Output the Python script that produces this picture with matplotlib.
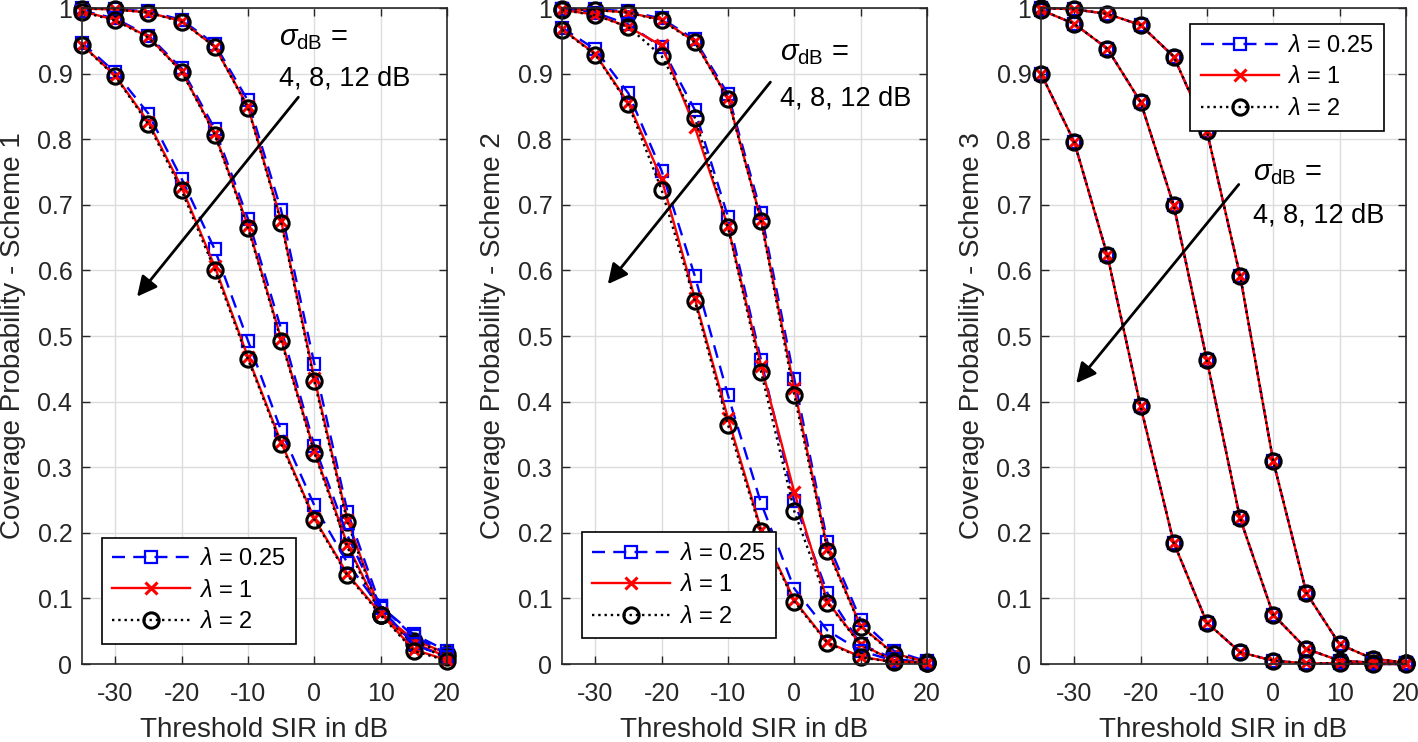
import matplotlib.pyplot as plt
import numpy as np

plt.rcParams['font.family'] = ['Liberation Sans', 'DejaVu Sans']
plt.rcParams['mathtext.fontset'] = 'custom'
plt.rcParams['mathtext.rm'] = 'Liberation Sans'
plt.rcParams['mathtext.it'] = 'Liberation Sans:italic'
plt.rcParams['axes.unicode_minus'] = False

# Порог SIR, дБ
sir_db = [-35, -30, -25, -20, -15, -10, -5, 0, 5, 10, 15, 20]

lambda_labels = [r'$\lambda$ = 0.25', r'$\lambda$ = 1', r'$\lambda$ = 2']

# Схема 1: sigma = 4, 8, 12 дБ; lambda = 0.25, 1, 2
s1_sig4_l025 = [1.0, 0.998, 0.995, 0.982, 0.945, 0.859, 0.692, 0.458, 0.232, 0.088, 0.045, 0.02]
s1_sig4_l1 = [0.999, 0.998, 0.993, 0.980, 0.941, 0.850, 0.676, 0.436, 0.220, 0.078, 0.037, 0.016]
s1_sig4_l2 = [0.999, 0.998, 0.993, 0.979, 0.941, 0.848, 0.673, 0.431, 0.216, 0.074, 0.035, 0.015]
s1_sig8_l025 = [0.996, 0.984, 0.958, 0.908, 0.816, 0.679, 0.511, 0.333, 0.196, 0.088, 0.042, 0.016]
s1_sig8_l1 = [0.995, 0.982, 0.956, 0.904, 0.809, 0.668, 0.496, 0.325, 0.182, 0.078, 0.032, 0.011]
s1_sig8_l2 = [0.994, 0.981, 0.955, 0.903, 0.807, 0.665, 0.493, 0.322, 0.178, 0.075, 0.030, 0.010]
s1_sig12_l025 = [0.947, 0.902, 0.839, 0.740, 0.632, 0.493, 0.356, 0.242, 0.154, 0.085, 0.030, 0.010]
s1_sig12_l1 = [0.944, 0.897, 0.826, 0.727, 0.606, 0.468, 0.338, 0.222, 0.137, 0.077, 0.022, 0.006]
s1_sig12_l2 = [0.943, 0.896, 0.823, 0.722, 0.601, 0.465, 0.335, 0.220, 0.135, 0.075, 0.020, 0.005]

# Схема 2
s2_sig4_l025 = [0.999, 0.998, 0.995, 0.984, 0.952, 0.869, 0.688, 0.435, 0.186, 0.067, 0.020, 0.004]
s2_sig4_l1 = [0.998, 0.997, 0.993, 0.982, 0.949, 0.863, 0.677, 0.420, 0.176, 0.058, 0.016, 0.003]
s2_sig4_l2 = [0.998, 0.997, 0.993, 0.981, 0.948, 0.862, 0.675, 0.410, 0.173, 0.057, 0.015, 0.003]
s2_sig8_l025 = [0.998, 0.993, 0.975, 0.940, 0.845, 0.682, 0.463, 0.248, 0.108, 0.030, 0.008, 0.002]
s2_sig8_l1 = [0.997, 0.990, 0.971, 0.943, 0.819, 0.667, 0.455, 0.262, 0.095, 0.030, 0.005, 0.002]
s2_sig8_l2 = [0.997, 0.989, 0.971, 0.927, 0.833, 0.666, 0.445, 0.233, 0.093, 0.029, 0.005, 0.002]
s2_sig12_l025 = [0.970, 0.937, 0.870, 0.752, 0.592, 0.410, 0.245, 0.115, 0.051, 0.020, 0.005, 0.002]
s2_sig12_l1 = [0.968, 0.930, 0.855, 0.740, 0.558, 0.375, 0.205, 0.097, 0.033, 0.011, 0.003, 0.002]
s2_sig12_l2 = [0.967, 0.929, 0.853, 0.723, 0.554, 0.365, 0.202, 0.095, 0.032, 0.010, 0.003, 0.002]

# Схема 3 (кривые для всех lambda совпадают)
s3_sig4 = [1.0, 0.998, 0.991, 0.974, 0.926, 0.812, 0.592, 0.309, 0.108, 0.030, 0.008, 0.002]
s3_sig8 = [0.997, 0.976, 0.938, 0.857, 0.699, 0.463, 0.222, 0.075, 0.023, 0.005, 0.002, 0.001]
s3_sig12 = [0.900, 0.796, 0.623, 0.393, 0.185, 0.063, 0.018, 0.005, 0.001, 0.001, 0.0, 0.0]

schemes = [
    [[s1_sig4_l025, s1_sig4_l1, s1_sig4_l2],
     [s1_sig8_l025, s1_sig8_l1, s1_sig8_l2],
     [s1_sig12_l025, s1_sig12_l1, s1_sig12_l2]],
    [[s2_sig4_l025, s2_sig4_l1, s2_sig4_l2],
     [s2_sig8_l025, s2_sig8_l1, s2_sig8_l2],
     [s2_sig12_l025, s2_sig12_l1, s2_sig12_l2]],
    [[s3_sig4, s3_sig4, s3_sig4],
     [s3_sig8, s3_sig8, s3_sig8],
     [s3_sig12, s3_sig12, s3_sig12]],
]

styles = [
    dict(color='blue', linestyle=(0, (5.5, 3.5)), marker='s', markersize=9,
         markerfacecolor='none', markeredgewidth=1.6, linewidth=1.7),
    dict(color='red', linestyle='-', marker='x', markersize=9, markeredgewidth=2.2,
         linewidth=1.7),
    dict(color='black', linestyle=':', marker='o', markersize=11, markerfacecolor='none',
         markeredgewidth=2.2, linewidth=1.7),
]

# Позиции стрелок и подписей (в координатах данных)
arrows = [((-2.4, 0.864), (-26.7, 0.56)),
          ((-3.6, 0.887), (-28.1, 0.579)),
          ((-5.2, 0.731), (-29.7, 0.428))]
texts = [((-5.3, 0.955), (-5.3, 0.893)),
         ((-2.1, 0.932), (-2.1, 0.862)),
         ((-3.1, 0.749), (-3.1, 0.684))]
legend_anchor = [('lower left', (0.022, 0.013)),
                 ('lower left', (0.022, 0.021)),
                 ('upper right', (0.973, 0.993))]

fig = plt.figure(figsize=(14.18, 7.42), dpi=100)
lefts = [82 / 1418, 562 / 1418, 1041 / 1418]
axis_col = '#262626'

for k in range(3):
    ax = fig.add_axes([lefts[k], 1 - 664 / 742, 365 / 1418, 656 / 742])
    for sig_curves in schemes[k]:
        for j in range(3):
            ax.plot(sir_db, sig_curves[j], clip_on=False,
                    label=lambda_labels[j] if sig_curves is schemes[k][0] else None,
                    **styles[j])

    ax.set_xlim(-35, 20)
    ax.set_ylim(0, 1)
    ax.set_xticks(np.arange(-30, 21, 10))
    ax.set_yticks(np.arange(0, 1.01, 0.1))
    ax.set_yticklabels(['0', '0.1', '0.2', '0.3', '0.4', '0.5', '0.6', '0.7', '0.8', '0.9', '1'])
    ax.grid(True, color='#dcdcdc', linewidth=1.0)
    ax.set_axisbelow(True)
    ax.tick_params(direction='in', top=True, right=True, length=6, width=1,
                   labelsize=18, colors=axis_col)
    ax.tick_params(axis='x', pad=13)
    ax.tick_params(axis='y', pad=7)
    for sp in ax.spines.values():
        sp.set_color(axis_col)
        sp.set_linewidth(1.2)
    ax.set_xlabel('Threshold SIR in dB', fontsize=20, color=axis_col, labelpad=8)
    ax.set_ylabel(f'Coverage Probability - Scheme {k + 1}', fontsize=20, color=axis_col,
                  labelpad=8)

    (x0, y0), (x1, y1) = arrows[k]
    ax.annotate('', xy=(x1, y1), xytext=(x0, y0),
                arrowprops=dict(arrowstyle='-|>', color='black', lw=2,
                                mutation_scale=30, shrinkA=0, shrinkB=0))
    (tx0, ty0), (tx1, ty1) = texts[k]
    ax.text(tx0, ty0, r'$\sigma_{\rm dB}$ =', fontsize=21, va='center', ha='left')
    ax.text(tx1, ty1, '4, 8, 12 dB', fontsize=19.5, va='center', ha='left')

    loc, anchor = legend_anchor[k]
    leg = ax.legend(loc=loc, bbox_to_anchor=anchor, fontsize=17, fancybox=False,
                    edgecolor='black', framealpha=1, handlelength=3.3,
                    handletextpad=0.35, borderpad=0.45, labelspacing=0.4)
    leg.get_frame().set_linewidth(1.2)

plt.savefig('out.png', dpi=100)
